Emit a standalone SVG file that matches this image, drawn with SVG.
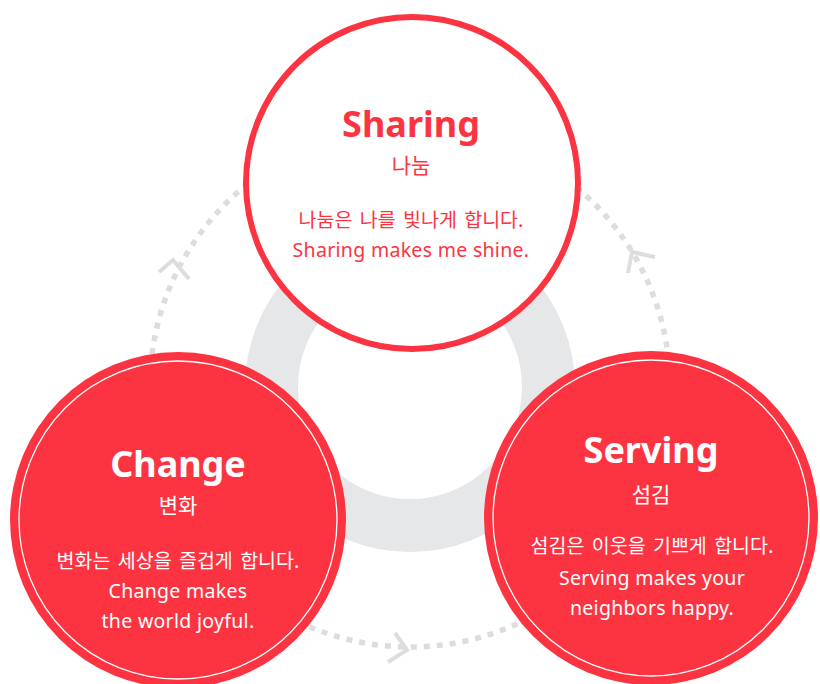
<svg xmlns="http://www.w3.org/2000/svg" width="820" height="684" viewBox="0 0 820 684">
<style>
.ring{fill:none;stroke:#e6e7e9;stroke-width:53}
.dots{fill:none;stroke:#dcdddf;stroke-width:5.5;stroke-dasharray:6 7}
.chev{fill:none;stroke:#dcdddf;stroke-width:4;stroke-linecap:butt;stroke-linejoin:miter}
.red{fill:#fc3442}
.inner{fill:none;stroke:#ffffff;stroke-width:1.3}
.title{font-family:"Noto Sans","Noto Sans CJK KR",sans-serif;font-weight:700;font-size:36px;text-anchor:middle}
.ko{font-family:"Noto Sans CJK KR","Noto Sans",sans-serif;font-size:21px;text-anchor:middle}
.kbody{font-family:"Noto Sans CJK KR","Noto Sans",sans-serif;font-size:19.5px;word-spacing:3px;text-anchor:middle}
.body{font-family:"Noto Sans","Noto Sans CJK KR",sans-serif;font-size:19.5px;letter-spacing:0.3px;text-anchor:middle}
.w{fill:#ffffff}
.r{fill:#fc3442}
</style>
<rect width="820" height="684" fill="#ffffff"/>
<circle class="ring" cx="410" cy="387" r="138.5"/>
<g id="connectors">
<path class="dots" d="M184.8,517 A260,260 0 0 1 410,127"/>
<path class="dots" d="M638.5,511 A260,260 0 0 0 410,127"/>
<path class="dots" d="M184.8,517 A260,260 0 0 0 638.5,511"/>
<path class="chev" d="M159,272 L173,260 L189,279"/>
<path class="chev" d="M628,273 L632,252 L655,257"/>
<path class="chev" d="M395,633 L407,650 L388,662"/>
</g>
<g id="sharing">
<circle cx="412" cy="183" r="166" fill="#ffffff" stroke="#fc3442" stroke-width="6"/>
<text class="title r" x="411" y="137">Sharing</text>
<text class="ko r" x="411" y="173">나눔</text>
<text class="kbody r" x="411" y="227">나눔은 나를 빛나게 합니다.</text>
<text class="body r" x="411" y="257">Sharing makes me shine.</text>
</g>
<g id="change">
<circle class="red" cx="178" cy="520" r="168"/>
<circle class="inner" cx="178" cy="520" r="159"/>
<text class="title w" x="178" y="477">Change</text>
<text class="ko w" x="178" y="513">변화</text>
<text class="kbody w" x="178" y="568">변화는 세상을 즐겁게 합니다.</text>
<text class="body w" x="178" y="598">Change makes</text>
<text class="body w" x="178" y="628">the world joyful.</text>
</g>
<g id="serving">
<circle class="red" cx="651" cy="518" r="167"/>
<circle class="inner" cx="651" cy="518" r="158"/>
<text class="title w" x="651" y="463">Serving</text>
<text class="ko w" x="651" y="502">섬김</text>
<text class="kbody w" x="652" y="553">섬김은 이웃을 기쁘게 합니다.</text>
<text class="body w" x="652" y="585">Serving makes your</text>
<text class="body w" x="652" y="615">neighbors happy.</text>
</g>
</svg>
